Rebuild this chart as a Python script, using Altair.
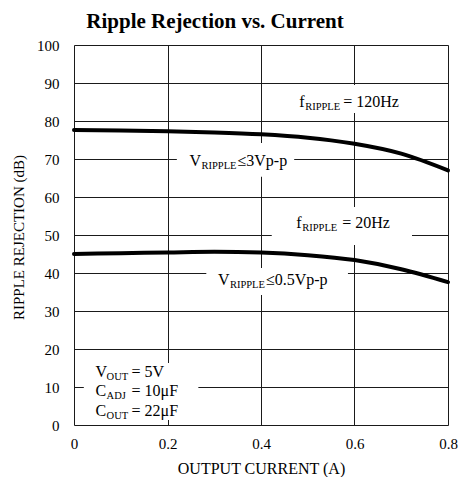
import altair as alt
import pandas as pd

# ---- data ----
current_120 = [0.0, 0.1, 0.2, 0.3, 0.4, 0.5, 0.55, 0.6, 0.7, 0.8]
rej_120 = [77.6, 77.5, 77.3, 77.0, 76.5, 75.6, 74.9, 74.0, 71.4, 67.0]
current_20 = [0.0, 0.1, 0.2, 0.3, 0.4, 0.5, 0.6, 0.7, 0.8]
rej_20 = [45.0, 45.2, 45.4, 45.6, 45.4, 44.7, 43.4, 41.0, 37.6]

x_ticks = [0, 0.2, 0.4, 0.6, 0.8]
y_ticks = [0, 10, 20, 30, 40, 50, 60, 70, 80, 90, 100]

FONT = "Liberation Serif"

df = pd.DataFrame({
    "current": current_120 + current_20,
    "rej": rej_120 + rej_20,
    "series": ["120Hz"] * len(current_120) + ["20Hz"] * len(current_20),
})

# white label boxes (data units)
box_x1 = [0.471, 0.220, 0.423, 0.283, 0.021]
box_x2 = [0.702, 0.471, 0.723, 0.586, 0.266]
box_y1 = [82.1, 65.3, 47.4, 34.2, 1.3]
box_y2 = [89.5, 74.2, 57.4, 41.3, 16.3]
boxes = pd.DataFrame({"x1": box_x1, "x2": box_x2, "y1": box_y1, "y2": box_y2})

xs = alt.Scale(domain=[0, 0.8], nice=False)
ys = alt.Scale(domain=[0, 100], nice=False)

xaxis = alt.Axis(values=x_ticks, title="OUTPUT CURRENT (A)", grid=True,
                 gridColor="#1a1a1a", gridOpacity=1, gridWidth=1,
                 domain=False, ticks=False, labelPadding=11, labelOverlap=False,
                 labelFont=FONT, labelFontSize=15, labelColor="black",
                 labelFlush=False, format="~g",
                 titleFont=FONT, titleFontSize=16, titleFontWeight="normal",
                 titleColor="black", titleX=187, titleY=43,
                 titleBaseline="middle", titleAlign="center")
yaxis = alt.Axis(values=y_ticks, title="RIPPLE REJECTION (dB)", grid=True,
                 gridColor="#1a1a1a", gridOpacity=1, gridWidth=1,
                 domain=False, ticks=False, labelPadding=15, labelOverlap=False,
                 labelFont=FONT, labelFontSize=15, labelColor="black",
                 titleFont=FONT, titleFontSize=15, titleFontWeight="normal",
                 titleColor="black", titleX=-56, titleY=192,
                 titleAngle=-90, titleBaseline="middle", titleAlign="center")

lines = alt.Chart(df).mark_line(color="black", strokeWidth=4, strokeCap="round",
                                interpolate="monotone").encode(
    x=alt.X("current:Q", scale=xs, axis=xaxis),
    y=alt.Y("rej:Q", scale=ys, axis=yaxis),
    detail="series:N",
)

rects = alt.Chart(boxes).mark_rect(color="white", opacity=1).encode(
    x=alt.X("x1:Q", scale=xs, axis=xaxis), x2="x2:Q",
    y=alt.Y("y1:Q", scale=ys, axis=yaxis), y2="y2:Q",
)

# annotation anchors (data units) and text segments
anchor_x = [0.4817, 0.2471, 0.4754, 0.3079, 0.0461, 0.0461, 0.0461]
anchor_y = [83.68, 68.16, 51.84, 36.84, 12.63, 7.63, 2.37]
seg_main1 = ["f", "V", "f", "V", "V", "C", "C"]
seg_sub = ["RIPPLE", "RIPPLE", "RIPPLE", "RIPPLE", "OUT", "ADJ", "OUT"]
seg_main2 = ["= 120Hz", "≤3Vp-p", "= 20Hz", "≤0.5Vp-p", "= 5V", "= 10μF", "= 22μF"]
sub_dx = [6, 12, 6, 12, 11, 11, 11]
main2_dx = [44, 48, 46, 48, 36, 36, 36]

text_layers = []
for i in range(len(anchor_x)):
    row = pd.DataFrame({"x": [anchor_x[i]], "y": [anchor_y[i]],
                        "a": [seg_main1[i]], "b": [seg_sub[i]], "c": [seg_main2[i]]})
    c = alt.Chart(row)
    enc = dict(x=alt.X("x:Q", scale=xs, axis=xaxis), y=alt.Y("y:Q", scale=ys, axis=yaxis))
    text_layers.append(c.mark_text(font=FONT, fontSize=16, align="left",
                                   baseline="alphabetic", color="black")
                       .encode(text="a:N", **enc))
    text_layers.append(c.mark_text(font=FONT, fontSize=10.5, align="left",
                                   baseline="alphabetic", color="black",
                                   dx=sub_dx[i], dy=3)
                       .encode(text="b:N", **enc))
    text_layers.append(c.mark_text(font=FONT, fontSize=16, align="left",
                                   baseline="alphabetic", color="black",
                                   dx=main2_dx[i])
                       .encode(text="c:N", **enc))

chart = alt.layer(rects, lines, *text_layers).properties(
    width=374, height=380,
    autosize=alt.AutoSizeParams(type="none"),
    padding={"left": 66, "top": 37, "right": 10, "bottom": 52},
    title=alt.Title("Ripple Rejection vs. Current", font=FONT, fontSize=21,
                    fontWeight="bold", color="black", anchor="middle",
                    dx=-46, offset=6),
).configure_view(stroke="black", strokeWidth=1.2).configure(background="white")

chart.save("out.html", embed_options={"renderer": "svg", "actions": False})
